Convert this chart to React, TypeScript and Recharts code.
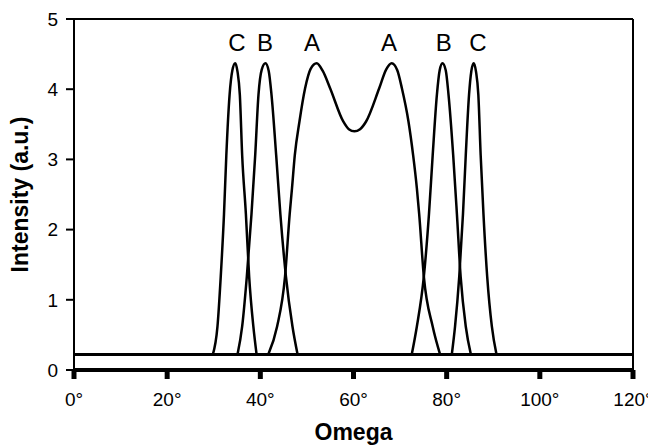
import { ComposedChart, Line, XAxis, YAxis, ReferenceLine, ReferenceDot } from 'recharts'

const FONT = '"Liberation Sans", Arial, Helvetica, sans-serif'

// [omega (deg), intensity]
const C_LEFT = [
  [29.8, 0.22], [30.8, 0.62], [31.5, 1.33], [32.2, 2.22], [32.7, 3.06], [33.4, 3.92],
  [34.0, 4.27], [34.6, 4.37], [35.1, 4.25], [35.6, 3.92], [36.1, 3.06], [36.9, 2.22],
  [37.6, 1.33], [38.5, 0.62], [39.2, 0.22],
]
const B_LEFT = [
  [35.1, 0.22], [36.1, 0.62], [37.1, 1.33], [38.1, 2.22], [38.9, 3.06], [39.6, 3.92],
  [40.3, 4.28], [41.1, 4.37], [41.8, 4.26], [42.4, 3.92], [43.4, 3.06], [44.3, 2.22],
  [45.5, 1.33], [46.9, 0.62], [48.0, 0.22],
]
const A_PAIR = [
  [41.7, 0.22], [43.6, 0.62], [45.3, 1.33], [46.3, 2.22], [46.8, 2.59], [47.4, 3.06],
  [48.4, 3.54], [49.6, 4.01], [50.8, 4.29], [52.1, 4.37], [53.4, 4.26], [55.0, 4.01],
  [57.8, 3.54], [59.0, 3.43], [60.2, 3.40], [61.4, 3.43], [62.7, 3.54], [65.5, 4.01],
  [67.0, 4.28], [68.2, 4.37], [69.4, 4.27], [70.4, 4.01], [71.8, 3.54], [72.8, 3.06],
  [73.6, 2.59], [74.1, 2.22], [75.1, 1.33], [77.0, 0.62], [78.6, 0.22],
]
const B_RIGHT = [
  [72.5, 0.22], [73.6, 0.62], [75.1, 1.33], [76.2, 2.22], [77.0, 3.06], [77.9, 3.92],
  [78.5, 4.27], [79.1, 4.37], [79.8, 4.27], [80.4, 3.92], [81.4, 3.06], [82.2, 2.22],
  [83.0, 1.33], [84.1, 0.62], [85.2, 0.22],
]
const C_RIGHT = [
  [81.1, 0.22], [81.8, 0.62], [82.7, 1.33], [83.5, 2.22], [84.1, 3.06], [84.8, 3.92],
  [85.3, 4.26], [85.8, 4.37], [86.3, 4.25], [86.8, 3.92], [87.3, 3.06], [87.9, 2.22],
  [88.7, 1.33], [89.7, 0.62], [90.7, 0.22],
]
const BASELINE = [[0, 0.22], [120, 0.22]]

const PEAK_LABELS = [
  { x: 35.0, text: 'C' },
  { x: 41.0, text: 'B' },
  { x: 51.1, text: 'A' },
  { x: 67.6, text: 'A' },
  { x: 79.4, text: 'B' },
  { x: 86.7, text: 'C' },
]
const LABEL_Y = 4.66

const X_TICKS = [0, 20, 40, 60, 80, 100, 120]
const Y_TICKS = [0, 1, 2, 3, 4, 5]

const toPts = (a: number[][]) => a.map(([x, y]) => ({ x, y }))
const curves = [C_LEFT, B_LEFT, A_PAIR, B_RIGHT, C_RIGHT]

export default function App() {
  return (
    <ComposedChart width={648} height={440} margin={{ top: 11, right: 23, left: 6, bottom: 22 }}>
      <XAxis
        type="number"
        dataKey="x"
        domain={[0, 120]}
        ticks={X_TICKS}
        tickFormatter={(v: number) => `${v}°`}
        height={56}
        tickSize={9}
        tickMargin={14}
        axisLine={{ stroke: '#000', strokeWidth: 4 }}
        tickLine={{ stroke: '#000', strokeWidth: 5 }}
        tick={{ fill: '#000', fontSize: 19, fontFamily: FONT }}
        label={{
          value: 'Omega',
          position: 'bottom',
          offset: -2,
          fill: '#000',
          fontSize: 23,
          fontWeight: 'bold',
          fontFamily: FONT,
        }}
      />
      <YAxis
        type="number"
        domain={[0, 5]}
        ticks={Y_TICKS}
        width={60}
        tickSize={8}
        tickMargin={8}
        axisLine={{ stroke: '#000', strokeWidth: 2 }}
        tickLine={{ stroke: '#000', strokeWidth: 2 }}
        tick={{ fill: '#000', fontSize: 19, fontFamily: FONT }}
        label={{
          value: 'Intensity (a.u.)',
          angle: -90,
          position: 'insideLeft',
          offset: 6,
          fill: '#000',
          fontSize: 23,
          fontWeight: 'bold',
          fontFamily: FONT,
          style: { textAnchor: 'middle' },
        }}
      />
      <ReferenceLine y={5} stroke="#000" strokeWidth={2} />
      <ReferenceLine x={120} stroke="#000" strokeWidth={2} />
      <Line
        data={toPts(BASELINE)}
        dataKey="y"
        type="linear"
        stroke="#000"
        strokeWidth={3}
        dot={false}
        isAnimationActive={false}
      />
      {curves.map((c, i) => (
        <Line
          key={i}
          data={toPts(c)}
          dataKey="y"
          type="monotone"
          stroke="#000"
          strokeWidth={2.5}
          dot={false}
          isAnimationActive={false}
        />
      ))}
      {PEAK_LABELS.map((p, i) => (
        <ReferenceDot
          key={i}
          x={p.x}
          y={LABEL_Y}
          r={0}
          fill="none"
          stroke="none"
          label={{ value: p.text, position: 'center', fill: '#000', fontSize: 24, fontFamily: FONT }}
        />
      ))}
    </ComposedChart>
  )
}
